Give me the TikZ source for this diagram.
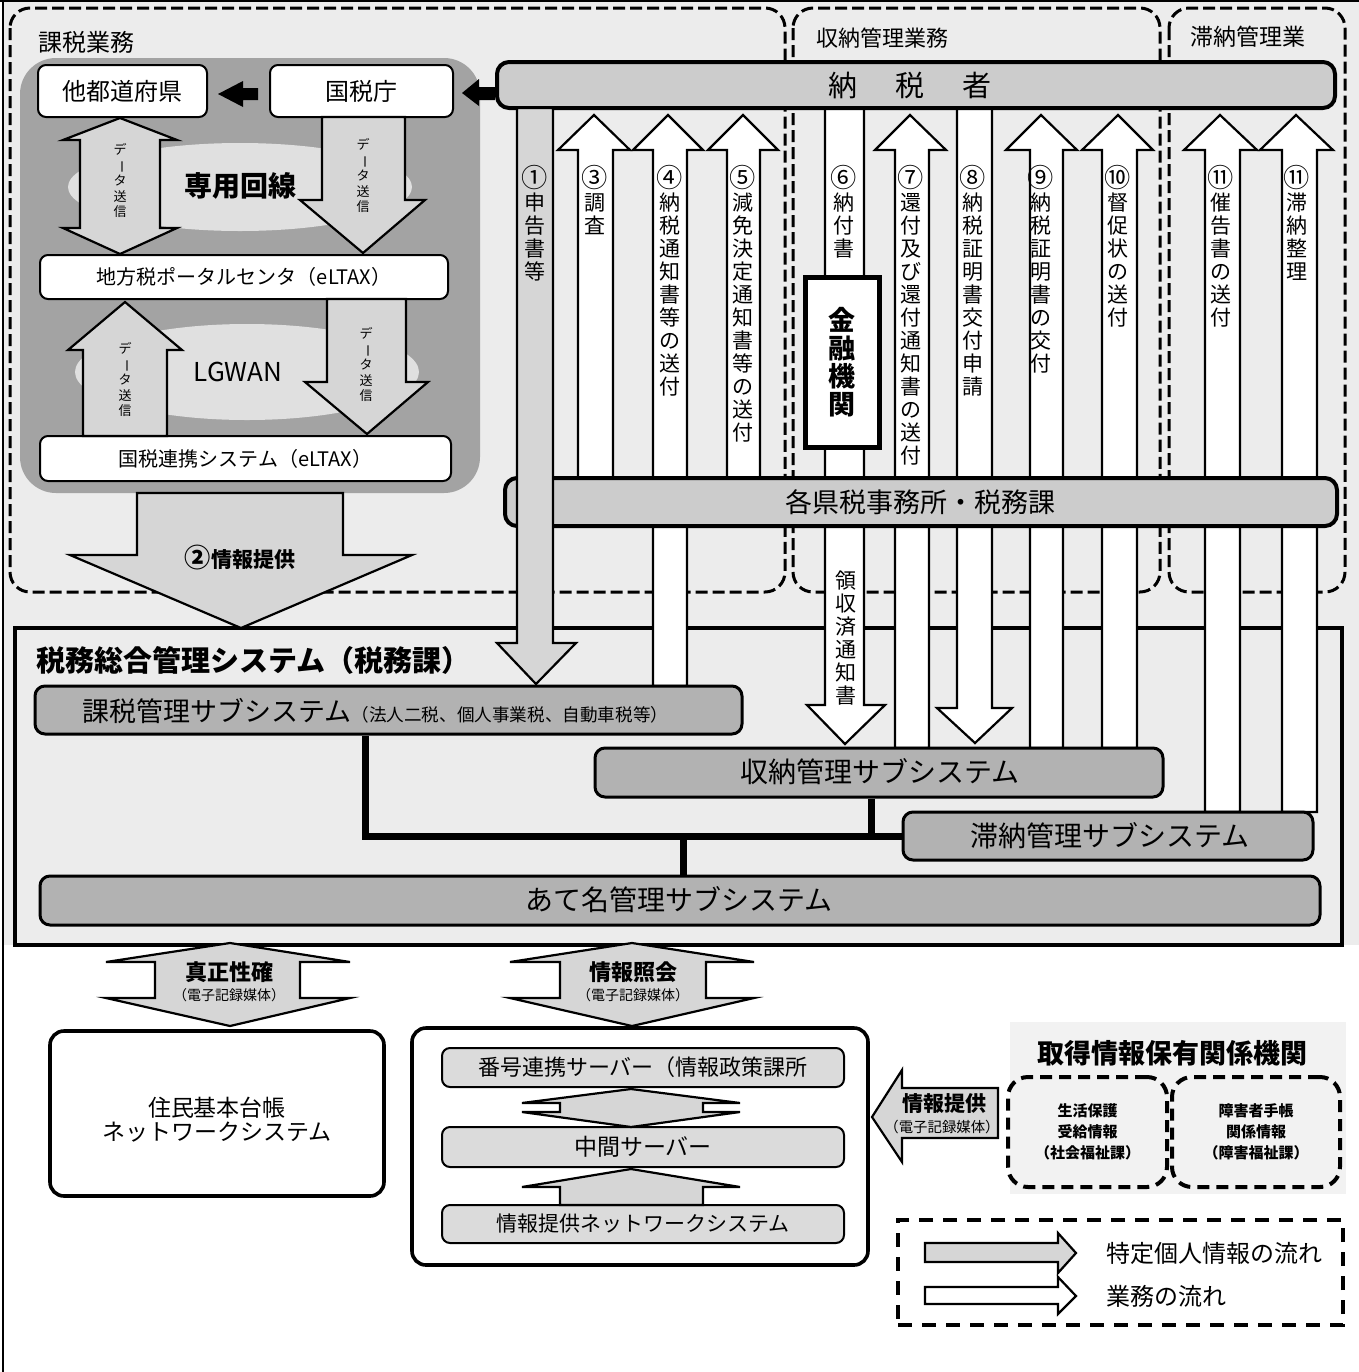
\documentclass[tikz,border=0pt]{standalone}
\usepackage{fontspec}
\setmainfont{Noto Sans CJK JP}
\usetikzlibrary{fit,calc}
\definecolor{bgc}{gray}{0.925}
\definecolor{barc}{gray}{0.80}
\definecolor{subc}{gray}{0.70}
\definecolor{blobc}{gray}{0.64}
\definecolor{lensc}{gray}{0.88}
\definecolor{garc}{gray}{0.84}
\definecolor{svc}{gray}{0.86}
\definecolor{orgc}{gray}{0.95}
\newcommand{\vblk}[9]{\path[#1] (#2,#9) -- (#2,#8) -- (#4,#8) -- (#6,#7) -- (#5,#8) -- (#3,#8) -- (#3,#9) -- cycle;}
\newcommand{\vchou}{\rotatebox[origin=c]{-90}{ー}}
\newcommand{\myfs}[2]{\fontsize{#1}{#2}\selectfont}
\newcommand{\cnum}[1]{\scalebox{1.25}{#1}}
\begin{document}
\begin{tikzpicture}[x=0.5pt,y=-0.5pt,
  wbox/.style={draw=black, line width=1pt, rounded corners=4pt, fill=white, inner sep=0pt},
  sbox/.style={draw=black, line width=1.5pt, rounded corners=5pt, fill=subc, inner sep=0pt},
  barbox/.style={draw=black, line width=2pt, rounded corners=6pt, fill=barc, inner sep=0pt},
  svbox/.style={draw=black, line width=1pt, rounded corners=4pt, fill=svc, inner sep=0pt},
  bigbox/.style={draw=black, line width=1.8pt, rounded corners=7pt, fill=white, inner sep=0pt},
  warr/.style={draw=black, line width=1.1pt, fill=white},
  garr/.style={draw=black, line width=1.1pt, fill=garc},
  dreg/.style={draw=black, line width=1.5pt, dash pattern=on 6pt off 2.5pt, rounded corners=10pt},
  dbox/.style={draw=black, line width=2pt, dash pattern=on 6pt off 3.5pt, rounded corners=10pt, inner sep=0pt},
  vlab/.style={font=\myfs{10.5}{11.5}, align=center, inner sep=0pt, anchor=north},
  dlab/.style={font=\myfs{6.5}{7.8}, align=center, inner sep=0pt, anchor=north},
  conn/.style={line width=3.5pt},
  txt/.style={inner sep=0pt},
]
\useasboundingbox (0,0) rectangle (1359,1372);
% background and frame
\fill[bgc] (3,0) rectangle (1359,945);
\draw[line width=1pt] (0,1) -- (1359,1);
\draw[line width=1.2pt] (3,0) -- (3,1372);
% big system box
\node[fit={(15,628) (1342,945)}, draw, line width=1.8pt, fill=bgc, inner sep=0pt] (sys) {};
% dashed regions
\draw[dreg] (10,8) rectangle (785,592);
\draw[dreg] (793,8) rectangle (1160,592);
\draw[dreg] (1169,8) rectangle (1345,592);
\node[txt, anchor=west, font=\myfs{12}{12}] (hkazei) at (38,42) {課税業務};
\node[txt, anchor=west, font=\myfs{11}{11}] (hshunou) at (816,38) {収納管理業務};
\node[txt, anchor=west, font=\myfs{11.5}{11.5}] (htainou) at (1190,37) {滞納管理業};
% gray blob
\fill[blobc, rounded corners=18pt] (20,58) rectangle (480,493);
\fill[lensc] (240,187) ellipse [x radius=172, y radius=44];
\fill[lensc] (247,372) ellipse [x radius=172, y radius=48];
% top-left boxes
\node[wbox, fit={(38,65) (207,117)}] (tado) {};
\node[txt, font=\myfs{12}{12}] (tadot) at (tado) {他都道府県};
\node[wbox, fit={(270,65) (453,117)}] (kokuzei) {};
\node[txt, font=\myfs{12}{12}] (kokuzeit) at (kokuzei) {国税庁};
\node[wbox, fit={(40,255) (448,299)}] (portal) {};
\node[txt, font=\myfs{10}{10}] (portalt) at (portal) {地方税ポータルセンタ（eLTAX）};
\node[wbox, fit={(40,436) (451,481)}] (renkei) {};
\node[txt, font=\myfs{10}{10}] (renkeit) at (renkei) {国税連携システム（eLTAX）};
% black arrows
\fill[black] (218,94) -- (243,81) -- (243,88) -- (258,88) -- (258,100) -- (243,100) -- (243,107) -- cycle;
\fill[black] (462,93) -- (479,79) -- (479,87) -- (495,87) -- (495,100) -- (479,100) -- (479,106) -- cycle;
% data transmission arrows
\path[garr] (120,118) -- (177,140) -- (160,140) -- (160,228) -- (177,228) -- (120,254) -- (63,228) -- (80,228) -- (80,140) -- (63,140) -- cycle;
\vblk{garr}{322}{405}{300}{425}{363}{253}{200}{117}
\vblk{garr}{83}{167}{68}{182}{125}{302}{350}{436}
\vblk{garr}{327}{406}{305}{428}{367}{434}{382}{299}
\node[dlab] (d1) at (120,143) {デ\\\vchou\\タ\\送\\信};
\node[dlab] (d2) at (363,138) {デ\\\vchou\\タ\\送\\信};
\node[dlab] (d3) at (125,342) {デ\\\vchou\\タ\\送\\信};
\node[dlab] (d4) at (366,327) {デ\\\vchou\\タ\\送\\信};
\node[txt, font=\myfs{14}{14}\bfseries] (senyo) at (240,186) {専用回線};
\node[txt, font=\myfs{13}{13}] (lgwan) at (238,372) {LGWAN};
% (2) info provision
\vblk{garr}{137}{343}{70}{412}{241}{628}{555}{493}
\node[txt, font=\myfs{10.5}{10.5}\bfseries] (jt2) at (240,558) {\cnum{②}情報提供};
% column arrows
\vblk{warr}{653}{687}{633}{703}{668}{115}{150}{686}
\vblk{warr}{578}{613}{558}{630}{594}{115}{150}{480}
\vblk{warr}{727}{760}{708}{778}{743}{115}{150}{480}
\vblk{warr}{825}{864}{807}{885}{845}{744}{705}{108}
\vblk{warr}{895}{929}{875}{946}{910}{115}{150}{748}
\vblk{warr}{957}{992}{937}{1012}{975}{743}{708}{108}
\vblk{warr}{1030}{1063}{1006}{1077}{1041}{115}{150}{748}
\vblk{warr}{1102}{1137}{1082}{1153}{1118}{115}{150}{748}
\vblk{warr}{1205}{1240}{1184}{1257}{1220}{115}{150}{812}
\vblk{warr}{1282}{1317}{1260}{1333}{1296}{115}{150}{812}
% bars
\node[barbox, fit={(497,62) (1335,108)}] (nozei) {};
\node[txt, font=\myfs{14.5}{14.5}] (nozeit) at (910,85) {納\hspace{19pt}税\hspace{19pt}者};
\node[barbox, fit={(505,478) (1337,526)}] (kenzei) {};
\node[txt, font=\myfs{13.5}{13.5}] (kenzeit) at (920,502) {各県税事務所・税務課};
\node[fit={(805,277) (879,447)}, draw, line width=2.5pt, fill=white, inner sep=0pt] (kinyu) {};
\node[txt, align=center, font=\myfs{13.5}{14}\bfseries] (kinyut) at (kinyu) {金\\融\\機\\関};
% (1) declaration arrow
\vblk{garr}{517}{553}{497}{576}{536}{684}{643}{108}
% vertical labels
\node[vlab] (l1) at (535,165) {\cnum{①}\\申\\告\\書\\等};
\node[vlab] (l3) at (595,165) {\cnum{③}\\調\\査};
\node[vlab] (l4) at (670,165) {\cnum{④}\\納\\税\\通\\知\\書\\等\\の\\送\\付};
\node[vlab] (l5) at (743,165) {\cnum{⑤}\\減\\免\\決\\定\\通\\知\\書\\等\\の\\送\\付};
\node[vlab] (l6) at (844,165) {\cnum{⑥}\\納\\付\\書};
\node[vlab] (l7) at (911,165) {\cnum{⑦}\\還\\付\\及\\び\\還\\付\\通\\知\\書\\の\\送\\付};
\node[vlab] (l8) at (973,165) {\cnum{⑧}\\納\\税\\証\\明\\書\\交\\付\\申\\請};
\node[vlab] (l9) at (1041,165) {\cnum{⑨}\\納\\税\\証\\明\\書\\の\\交\\付};
\node[vlab] (l10) at (1118,165) {\cnum{⑩}\\督\\促\\状\\の\\送\\付};
\node[vlab] (l11) at (1221,165) {\cnum{⑪}\\催\\告\\書\\の\\送\\付};
\node[vlab] (l12) at (1297,165) {\cnum{⑪}\\滞\\納\\整\\理};
\node[vlab] (lry) at (846,570) {領\\収\\済\\通\\知\\書};
% system title and subsystems
\node[txt, anchor=west, font=\myfs{14.5}{15}\bfseries] (systitle) at (36,660) {税務総合管理システム（税務課）};
\node[sbox, fit={(35,686) (742,734)}] (kazei) {};
\node[txt, anchor=west] (kazeit) at (82,711) {{\myfs{13.5}{14}課税管理サブシステム}{\myfs{8.8}{9}（法人二税、個人事業税、自動車税等）}};
\node[sbox, fit={(595,748) (1163,797)}] (shunou) {};
\node[txt, font=\myfs{14}{14}] (shunout) at (880,772) {収納管理サブシステム};
\node[sbox, fit={(903,812) (1313,860)}] (tainou) {};
\node[txt, font=\myfs{14}{14}] (tainout) at (1110,836) {滞納管理サブシステム};
\node[sbox, fit={(40,876) (1320,925)}] (atena) {};
\node[txt, font=\myfs{14}{14}] (atenat) at (679,900) {あて名管理サブシステム};
\coordinate (kx) at (365,0);
\coordinate (sx) at (871,0);
\coordinate (ax) at (683,0);
\draw[conn] (kazei.south -| kx) |- (tainou.west);
\draw[conn] (shunou.south -| sx) -- (sx |- tainou.west);
\draw[conn] (ax |- tainou.west) -- (atena.north -| ax);
% bottom double arrows
\path[garr] (230,943) -- (350,962) -- (300,962) -- (300,998) -- (350,998) -- (230,1026) -- (106,998) -- (155,998) -- (155,962) -- (106,962) -- cycle;
\node[txt, font=\myfs{11}{11}\bfseries] (shinsei) at (229,972) {真正性確};
\node[txt, font=\myfs{7}{7}] (shinsei2) at (229,995) {（電子記録媒体）};
\path[garr] (632,943) -- (754,962) -- (706,962) -- (706,998) -- (754,998) -- (632,1026) -- (510,998) -- (560,998) -- (560,962) -- (510,962) -- cycle;
\node[txt, font=\myfs{11}{11}\bfseries] (shokai) at (633,972) {情報照会};
\node[txt, font=\myfs{7}{7}] (shokai2) at (633,995) {（電子記録媒体）};
% juki
\node[bigbox, fit={(50,1031) (384,1196)}] (juki) {};
\node[txt, align=center, font=\myfs{11.5}{12}] (jukit) at (217,1120) {住民基本台帳\\ネットワークシステム};
% container
\node[bigbox, fit={(412,1028) (868,1265)}] (ctr) {};
\node[svbox, fit={(442,1048) (844,1087)}] (bango) {};
\node[txt, font=\myfs{11}{11}] (bangot) at (bango) {番号連携サーバー（情報政策課所};
\node[svbox, fit={(442,1127) (844,1167)}] (chukan) {};
\node[txt, font=\myfs{11.5}{11.5}] (chukant) at (chukan) {中間サーバー};
\node[svbox, fit={(442,1205) (844,1243)}] (teikyo) {};
\node[txt, font=\myfs{10.5}{10.5}] (teikyot) at (teikyo) {情報提供ネットワークシステム};
\path[garr] (631,1089) -- (740,1103) -- (703,1103) -- (703,1112) -- (740,1112) -- (631,1127) -- (522,1112) -- (560,1112) -- (560,1103) -- (522,1103) -- cycle;
\vblk{garr}{560}{703}{522}{740}{631}{1169}{1187}{1205}
% info provision left arrow
\path[garr] (872,1117) -- (902,1070) -- (902,1088) -- (998,1088) -- (998,1138) -- (902,1138) -- (902,1162) -- cycle;
\node[txt, font=\myfs{10.5}{10.5}\bfseries] (tk) at (944,1104) {情報提供};
\node[txt, font=\myfs{7.2}{7.2}] (tk2) at (942,1127) {（電子記録媒体）};
% organisations
\fill[orgc] (1010,1022) rectangle (1346,1194);
\node[txt, font=\myfs{13.5}{13.5}\bfseries] (orgt) at (1172,1053) {取得情報保有関係機関};
\node[dbox, fit={(1008,1077) (1167,1187)}] (seikatsu) {};
\node[txt, align=center, font=\myfs{7.5}{10.5}\bfseries] (seikatsut) at (seikatsu) {生活保護\\受給情報\\（社会福祉課）};
\node[dbox, fit={(1172,1077) (1340,1187)}] (shogai) {};
\node[txt, align=center, font=\myfs{7.5}{10.5}\bfseries] (shogait) at (shogai) {障害者手帳\\関係情報\\（障害福祉課）};
% legend
\node[fit={(898,1220) (1343,1325)}, draw, line width=2pt, dash pattern=on 7pt off 5pt, inner sep=0pt] (legend) {};
\path[garr] (925,1243) -- (1058,1243) -- (1058,1233) -- (1076,1253) -- (1058,1273) -- (1058,1262) -- (925,1262) -- cycle;
\node[txt, anchor=west, font=\myfs{12}{12}] (lg1) at (1106,1253) {特定個人情報の流れ};
\path[warr] (925,1287) -- (1058,1287) -- (1058,1277) -- (1076,1296) -- (1058,1314) -- (1058,1304) -- (925,1304) -- cycle;
\node[txt, anchor=west, font=\myfs{12}{12}] (lg2) at (1106,1296) {業務の流れ};
\end{tikzpicture}
\end{document}
